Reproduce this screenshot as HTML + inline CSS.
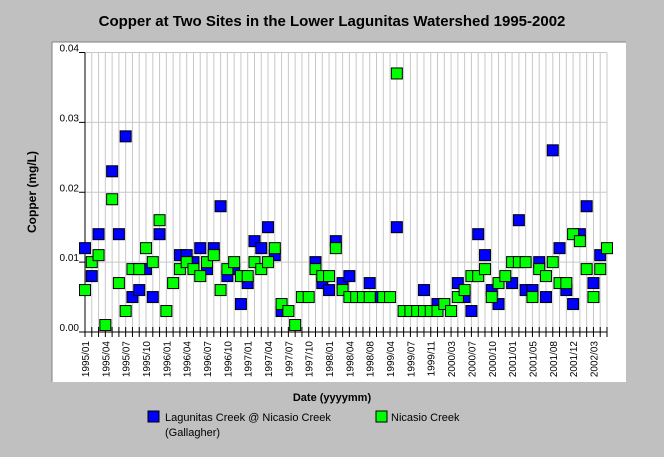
<!DOCTYPE html>
<html><head><meta charset="utf-8"><style>
body{margin:0;background:#c0c0c0;}
svg{display:block;font-family:"Liberation Sans",Arial,sans-serif;}
</style></head><body>
<svg id="c" width="664" height="457">
<rect x="0" y="0" width="664" height="457" fill="#c0c0c0"/>
<text x="332" y="26" text-anchor="middle" font-size="15" font-weight="bold">Copper at Two Sites in the Lower Lagunitas Watershed 1995-2002</text>
<rect x="52" y="42" width="574" height="340" fill="#fff"/>
<line x1="52" y1="42" x2="626" y2="42" stroke="#808080"/>
<line x1="52" y1="42" x2="52" y2="382" stroke="#808080"/>
<g id="grid"></g>
<g id="axes"></g>
<g id="marks"></g>
<text transform="translate(36,192) rotate(-90)" text-anchor="middle" font-size="12" font-weight="bold">Copper (mg/L)</text>
<text x="332" y="401" text-anchor="middle" font-size="11" font-weight="bold">Date (yyyymm)</text>
<g>
<g>
<rect x="148" y="411" width="11" height="11" fill="#0000ff" stroke="#000"/>
<text x="165" y="421" font-size="11">Lagunitas Creek @ Nicasio Creek</text>
<text x="165" y="436" font-size="11">(Gallagher)</text>
</g>
<g>
<rect x="376" y="411" width="11" height="11" fill="#00ff00" stroke="#000"/>
<text x="391" y="421" font-size="11">Nicasio Creek</text>
</g>
</g>
</svg>
<script>
const tickLabels=["1995/01","1995/04","1995/07","1995/10","1996/01","1996/04","1996/07","1996/10","1997/01","1997/04","1997/07","1997/10","1998/01","1998/04","1998/08","1999/04","1999/07","1999/11","2000/03","2000/07","2000/10","2001/01","2001/05","2001/08","2001/12","2002/03"];
const yTicks=[0,0.01,0.02,0.03,0.04];
const yTickLabels=["0.00","0.01","0.02","0.03","0.04"];
const nCats=78;
const blueIdx=[0,1,2,4,5,6,7,8,9,10,11,14,15,16,17,18,19,20,21,22,23,24,25,26,27,28,29,34,35,36,37,38,39,42,43,46,50,52,55,56,57,58,59,60,61,63,64,65,66,67,68,69,70,71,72,73,74,75,76];
const blueVals=[0.012,0.008,0.014,0.023,0.014,0.028,0.005,0.006,0.009,0.005,0.014,0.011,0.011,0.010,0.012,0.009,0.012,0.018,0.008,0.009,0.004,0.007,0.013,0.012,0.015,0.011,0.003,0.010,0.007,0.006,0.013,0.007,0.008,0.007,0.005,0.015,0.006,0.004,0.007,0.005,0.003,0.014,0.011,0.006,0.004,0.007,0.016,0.006,0.006,0.010,0.005,0.026,0.012,0.006,0.004,0.014,0.018,0.007,0.011];
const greenIdx=[0,1,2,3,4,5,6,7,8,9,10,11,12,13,14,15,16,17,18,19,20,21,22,23,24,25,26,27,28,29,30,31,32,33,34,35,36,37,38,39,40,41,42,44,45,46,47,48,49,50,51,52,53,54,55,56,57,58,59,60,61,62,63,64,65,66,67,68,69,70,71,72,73,74,75,76,77];
const greenVals=[0.006,0.010,0.011,0.001,0.019,0.007,0.003,0.009,0.009,0.012,0.010,0.016,0.003,0.007,0.009,0.010,0.009,0.008,0.010,0.011,0.006,0.009,0.010,0.008,0.008,0.010,0.009,0.010,0.012,0.004,0.003,0.001,0.005,0.005,0.009,0.008,0.008,0.012,0.006,0.005,0.005,0.005,0.005,0.005,0.005,0.037,0.003,0.003,0.003,0.003,0.003,0.003,0.004,0.003,0.005,0.006,0.008,0.008,0.009,0.005,0.007,0.008,0.010,0.010,0.010,0.005,0.009,0.008,0.010,0.007,0.007,0.014,0.013,0.009,0.005,0.009,0.012];
const NS='http://www.w3.org/2000/svg';
const X0=85,X1=607,Y0=332,Y1=52.5,YMAX=0.04;
const xs=i=>X0+i*(X1-X0)/(nCats-1);
const ys=v=>Y0-(v/YMAX)*(Y0-Y1);
function mk(t,a,p){const e=document.createElementNS(NS,t);for(const k in a)e.setAttribute(k,a[k]);p.appendChild(e);return e;}
const grid=document.getElementById('grid'),axes=document.getElementById('axes'),marks=document.getElementById('marks');
for(let i=0;i<nCats;i++){
  const l=mk('line',{x1:xs(i),x2:xs(i),y1:Y1,y2:Y0,stroke:'#c8c8c8'},grid);
  
  
  const t=mk('line',{x1:xs(i),x2:xs(i),y1:Y0-5,y2:Y0+5,stroke:'#000'},axes);
  
  
}
yTicks.forEach((v,k)=>{
  if(v>0){const g=mk('line',{x1:X0,x2:X1,y1:ys(v),y2:ys(v),stroke:'#c8c8c8'},grid);
  
  }
  const t=mk('line',{x1:X0-6,x2:X0,y1:ys(v),y2:ys(v),stroke:'#000'},axes);
  
  
  const tx=mk('text',{x:X0-6,y:ys(v)-1,'text-anchor':'end','font-size':'10'},axes);
  tx.textContent=yTickLabels[k];
  
  
});
mk('line',{x1:X0,x2:X0,y1:Y1,y2:Y0,stroke:'#000'},axes);
mk('line',{x1:X0,x2:X1,y1:Y0,y2:Y0,stroke:'#000'},axes);
tickLabels.forEach((s,k)=>{
  const x=xs(k*3);
  const tx=mk('text',{transform:`translate(${x+4},${Y0+9}) rotate(-90)`,'text-anchor':'end','font-size':'10'},axes);
  tx.textContent=s;
  
  
});
function series(idx,vals,col,name){
  idx.forEach((c,k)=>{
    const r=mk('rect',{x:xs(c)-5.5,y:ys(vals[k])-5.5,width:11,height:11,fill:col,stroke:'#000','stroke-width':1},marks);
    
    
  });
}
series(blueIdx,blueVals,'#0000ff','point-lagunitas');
series(greenIdx,greenVals,'#00ff00','point-nicasio');
</script>
</body></html>
